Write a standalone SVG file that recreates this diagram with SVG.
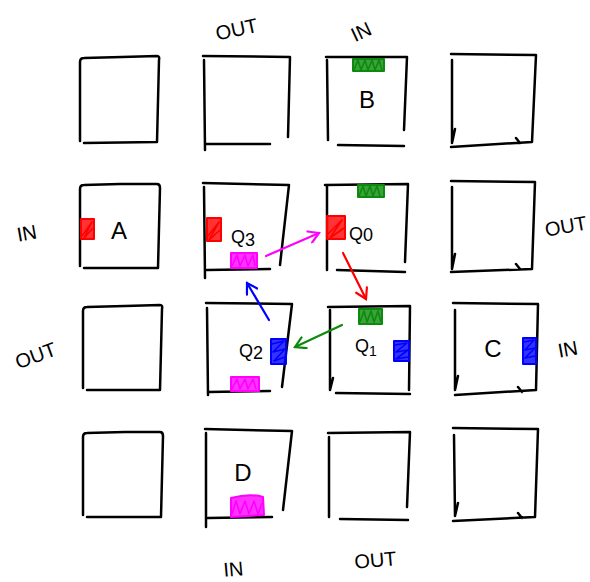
<svg xmlns="http://www.w3.org/2000/svg" width="590" height="582" viewBox="0 0 590 582">
<style>
.bx{fill:none;stroke:#000;stroke-width:2.5;stroke-linecap:round;stroke-linejoin:round}
.t{font-family:"Liberation Sans","DejaVu Sans",sans-serif;fill:#000}
.lab{font-size:20px}
.nd{font-size:24px}
.q{font-size:18px}
.arr{fill:none;stroke-width:2.2;stroke-linecap:round}
.mk{stroke-width:2;stroke-linejoin:round}
.zz{fill:none;stroke-width:1.6;stroke-linejoin:round}
.g{stroke:#0b8a0b;fill:#0b8a0b}
.r{stroke:#ff0000;fill:#ff0000}
.b{stroke:#0000ff;fill:#0000ff}
.m{stroke:#ff00ff;fill:#ff00ff}
</style>
<defs>
<marker id="hm" viewBox="0 0 14 14" refX="12" refY="7" markerWidth="14" markerHeight="14" markerUnits="userSpaceOnUse" orient="auto"><path d="M2,1 L12,7 L2,13" fill="none" stroke="#ff00ff" stroke-width="2.2" stroke-linecap="round"/></marker>
<marker id="hr" viewBox="0 0 14 14" refX="12" refY="7" markerWidth="14" markerHeight="14" markerUnits="userSpaceOnUse" orient="auto"><path d="M2,1 L12,7 L2,13" fill="none" stroke="#ff0000" stroke-width="2.2" stroke-linecap="round"/></marker>
<marker id="hb" viewBox="0 0 14 14" refX="12" refY="7" markerWidth="14" markerHeight="14" markerUnits="userSpaceOnUse" orient="auto"><path d="M2,1 L12,7 L2,13" fill="none" stroke="#0000ff" stroke-width="2.2" stroke-linecap="round"/></marker>
<marker id="hg" viewBox="0 0 14 14" refX="12" refY="7" markerWidth="14" markerHeight="14" markerUnits="userSpaceOnUse" orient="auto"><path d="M2,1 L12,7 L2,13" fill="none" stroke="#0b8a0b" stroke-width="2.2" stroke-linecap="round"/></marker>
</defs>
<rect width="590" height="582" fill="#fff"/>

<!-- Row 1 -->
<g id="r1c1"><path class="bx" d="M80,141 L80,62 Q80,58 84,58 L122,57 L157,56 Q160,56 159,60 L157,142 L84,143"/></g>
<g id="r1c2"><path class="bx" d="M203,56 L290,57 L288,137 M204,60 L205,150 M205,144 L270,144"/></g>
<g id="nodeB"><path class="bx" d="M326,57 L407,57 L404,130 M327,60 L328,140 M338,145 L404,146"/>
<rect class="mk g" x="353" y="59" width="31" height="12" fill-opacity="0.8"/>
<path class="zz" stroke="#0b8a0b" d="M354,70 L358,60 L361,70 L365,60 L368,70 L372,60 L375,70 L379,60 L382,70"/>
<text class="t nd" x="367" y="108" text-anchor="middle">B</text></g>
<g id="r1c4"><path class="bx" d="M451,54 L536,55 L532,142 L451,147 M452,60 L452,143 L455,129 M516,138 L520,143"/></g>

<!-- Row 2 -->
<g id="nodeA"><path class="bx" d="M80,266 L80,189 Q80,185 84,185 L120,184 L157,184 Q160,184 160,188 L158,268 L84,268"/>
<rect class="mk r" x="81" y="219" width="13" height="20" fill-opacity="0.8"/>
<path class="zz" stroke="#ff0000" d="M82,236 L92,222 L84,238 L93,228"/>
<text class="t nd" x="119" y="239" text-anchor="middle">A</text></g>
<g id="nodeQ3"><path class="bx" d="M203,183 L289,185 L280,265 M204,187 L205,278 M207,270 L270,269"/>
<rect class="mk r" x="207" y="218" width="14" height="23" fill-opacity="0.8"/>
<path class="zz" stroke="#ff0000" d="M208,236 L219,222 L209,240 L220,230"/>
<rect class="mk m" x="231" y="253" width="26" height="15" fill-opacity="0.8"/>
<path class="zz" stroke="#ff00ff" d="M232,266 L237,255 L240,266 L245,255 L248,266 L253,255 L255,266"/>
<text class="t q" x="231" y="243">Q<tspan dy="3">3</tspan></text></g>
<g id="nodeQ0"><path class="bx" d="M325,185 L408,184 L405,262 M327,185 L327,270 M337,270 L405,272"/>
<rect class="mk g" x="358" y="185" width="26" height="12" fill-opacity="0.8"/>
<path class="zz" stroke="#0b8a0b" d="M359,196 L363,186 L366,196 L370,186 L373,196 L377,186 L380,196"/>
<rect class="mk r" x="327" y="216" width="18" height="23" fill-opacity="0.8"/>
<path class="zz" stroke="#ff0000" d="M328,234 L342,220 L330,238 L344,228"/>
<text class="t q" x="349" y="240">Q<tspan dy="1">0</tspan></text></g>
<g id="r2c4"><path class="bx" d="M451,181 L535,182 L532,269 L451,272 M452,187 L452,269 L455,254 M516,264 L520,269"/></g>

<!-- Row 3 -->
<g id="r3c1"><path class="bx" d="M83,388 L83,311 Q83,307 87,307 L125,306 L160,305 Q163,305 162,309 L160,390 L87,390"/></g>
<g id="nodeQ2"><path class="bx" d="M206,303 L292,304 L282,387 M207,308 L208,395 M208,392 L270,391"/>
<rect class="mk b" x="271" y="339" width="15" height="25" fill-opacity="0.8"/>
<path class="zz" stroke="#0000ff" d="M272,344 L284,341 L273,352 L285,349 L274,361 L285,357"/>
<rect class="mk m" x="231" y="377" width="28" height="14" fill-opacity="0.8"/>
<path class="zz" stroke="#ff00ff" d="M232,389 L237,379 L240,389 L245,379 L248,389 L253,379 L256,389"/>
<text class="t q" x="239" y="357">Q<tspan dy="2">2</tspan></text></g>
<g id="nodeQ1"><path class="bx" d="M328,307 L410,306 L409,390 M330,310 L330,390 L333,378 M336,393 L410,394"/>
<rect class="mk g" x="359" y="309" width="23" height="15" fill-opacity="0.8"/>
<path class="zz" stroke="#0b8a0b" d="M360,322 L364,311 L367,322 L371,311 L374,322 L378,311 L381,322"/>
<rect class="mk b" x="394" y="341" width="15" height="20" fill-opacity="0.8"/>
<path class="zz" stroke="#0000ff" d="M395,345 L407,343 L396,352 L408,350 L396,359 L408,357"/>
<text class="t q" x="355" y="352">Q<tspan dy="4" font-size="14">1</tspan></text></g>
<g id="nodeC"><path class="bx" d="M453,303 L538,304 L536,390 L455,395 M455,310 L455,390 L458,376 M518,387 L522,392"/>
<rect class="mk b" x="523" y="338" width="13" height="26" fill-opacity="0.8"/>
<path class="zz" stroke="#0000ff" d="M524,342 L534,340 L525,350 L535,348 L525,358 L535,356"/>
<text class="t nd" x="493" y="357" text-anchor="middle">C</text></g>

<!-- Row 4 -->
<g id="r4c1"><path class="bx" d="M83,515 L83,437 Q83,433 87,433 L125,432 L160,432 Q163,432 163,436 L161,517 L87,517"/></g>
<g id="nodeD"><path class="bx" d="M205,429 L292,431 L283,510 M206,433 L206,527 M208,518 L272,517"/>
<path class="mk m" d="M231,498 Q250,493 263,497 L264,515 L231,517 Z" fill-opacity="0.8"/>
<path class="zz" stroke="#ff00ff" d="M232,514 L236,501 L240,514 L245,501 L249,514 L254,501 L258,514 L262,503"/>
<text class="t nd" x="243" y="481" text-anchor="middle">D</text></g>
<g id="r4c3"><path class="bx" d="M328,433 L410,432 L407,507 M329,437 L329,517 M340,519 L408,520"/></g>
<g id="r4c4"><path class="bx" d="M453,428 L538,429 L535,517 L453,521 M454,435 L455,516 L458,503 M518,513 L522,518"/></g>

<!-- connectors -->
<g id="connectors">
<path class="arr" stroke="#ff00ff" d="M266,256 L319,233" marker-end="url(#hm)"/>
<path class="arr" stroke="#ff0000" d="M343,253 L366,299" marker-end="url(#hr)"/>
<path class="arr" stroke="#0000ff" d="M269,320 L247,283" marker-end="url(#hb)"/>
<path class="arr" stroke="#0b8a0b" d="M342,325 L295,347" marker-end="url(#hg)"/>
</g>

<!-- port labels -->
<g id="labels">
<text class="t lab" x="0" y="0" text-anchor="middle" transform="translate(238,36) rotate(-12)">OUT</text>
<text class="t lab" x="0" y="0" text-anchor="middle" transform="translate(364,38) rotate(-25)">IN</text>
<text class="t lab" x="0" y="0" text-anchor="middle" transform="translate(28,240) rotate(-10)">IN</text>
<text class="t lab" x="0" y="0" text-anchor="middle" transform="translate(567,233) rotate(-10)">OUT</text>
<text class="t lab" x="0" y="0" text-anchor="middle" transform="translate(38,362) rotate(-20)">OUT</text>
<text class="t lab" x="0" y="0" text-anchor="middle" transform="translate(569,356) rotate(-10)">IN</text>
<text class="t lab" x="0" y="0" text-anchor="middle" transform="translate(234,576) rotate(-5)">IN</text>
<text class="t lab" x="0" y="0" text-anchor="middle" transform="translate(376,567) rotate(-5)">OUT</text>
</g>
</svg>
